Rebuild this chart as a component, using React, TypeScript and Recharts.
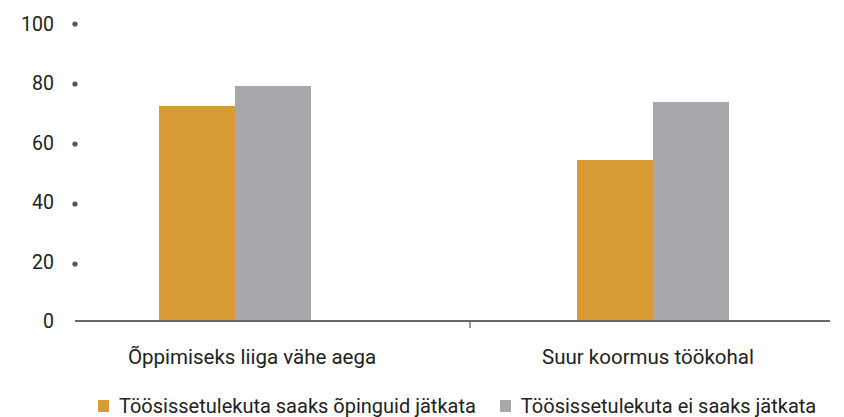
import React from "react";
import { BarChart, Bar, XAxis, YAxis, Legend } from "recharts";

const categories = ["Õppimiseks liiga vähe aega", "Suur koormus töökohal"];
const canContinue = [72.4, 54.2];
const cannotContinue = [79.1, 73.7];
const yTicks = [0, 20, 40, 60, 80, 100];
const seriesNames = [
  "Töösissetulekuta saaks õpinguid jätkata",
  "Töösissetulekuta ei saaks jätkata",
];

const ORANGE = "#D99B36";
const GRAY = "#A7A8AB";
const FONT = "Roboto, sans-serif";

const data = categories.map((name, i) => ({
  name,
  a: canContinue[i],
  b: cannotContinue[i],
}));

const YTick = (props: any) => {
  const { x, y, payload } = props;
  const v = payload.value;
  return (
    <g>
      {v > 0 && <circle cx={x} cy={y + (100 - v) * 0.03} r={2.6} fill="#555" />}
      <text x={x - 21} y={y} dy="0.36em" textAnchor="end" fontSize={19.5} fill="#222" fontFamily={FONT}>
        {v}
      </text>
    </g>
  );
};

const labelShift = [17, -5];

const XTick = (props: any) => {
  const { x, y, payload, index } = props;
  return (
    <g>
      {index === 0 && <line x1={x + 235} x2={x + 235} y1={y} y2={y + 7} stroke="#777" strokeWidth={1.5} />}
      <text x={x + labelShift[index]} y={y + 43} textAnchor="middle" fontSize={20.5} fill="#222" fontFamily={FONT}>
        {payload.value}
      </text>
    </g>
  );
};

const LegendContent = () => (
  <div
    style={{
      display: "flex",
      whiteSpace: "nowrap",
      paddingLeft: 98,
      paddingTop: 13,
      fontFamily: FONT,
      fontSize: 20,
      lineHeight: "24px",
      color: "#222",
    }}
  >
    {seriesNames.map((n, i) => (
      <div key={n} style={{ display: "flex", alignItems: "center", marginRight: 24 }}>
        <span
          style={{
            width: 11,
            height: 12,
            background: i === 0 ? ORANGE : GRAY,
            marginRight: 10,
            display: "inline-block",
            flexShrink: 0,
          }}
        />
        <span>{n}</span>
      </div>
    ))}
  </div>
);

export default function App() {
  return (
    <div style={{ position: "absolute", left: 0, top: 0, background: "#fff" }}>
      <BarChart
        width={844}
        height={417}
        data={data}
        margin={{ top: 24, right: 14, bottom: 0, left: 0 }}
        barGap={0}
        barSize={76}
      >
        <YAxis
          domain={[0, 100]}
          ticks={yTicks}
          width={75}
          axisLine={false}
          tickLine={false}
          tickSize={0}
          tickMargin={0}
          tick={<YTick />}
        />
        <XAxis
          dataKey="name"
          height={60}
          padding={{ left: -49, right: -32 }}
          axisLine={{ stroke: "#666", strokeWidth: 2 }}
          tickLine={false}
          tickSize={0}
          tickMargin={0}
          tick={<XTick />}
          interval={0}
        />
        <Legend
          verticalAlign="bottom"
          height={36}
          wrapperStyle={{ left: 0, width: 844 }}
          content={<LegendContent />}
        />
        <Bar dataKey="a" name={seriesNames[0]} fill={ORANGE} isAnimationActive={false} />
        <Bar dataKey="b" name={seriesNames[1]} fill={GRAY} isAnimationActive={false} />
      </BarChart>
    </div>
  );
}
